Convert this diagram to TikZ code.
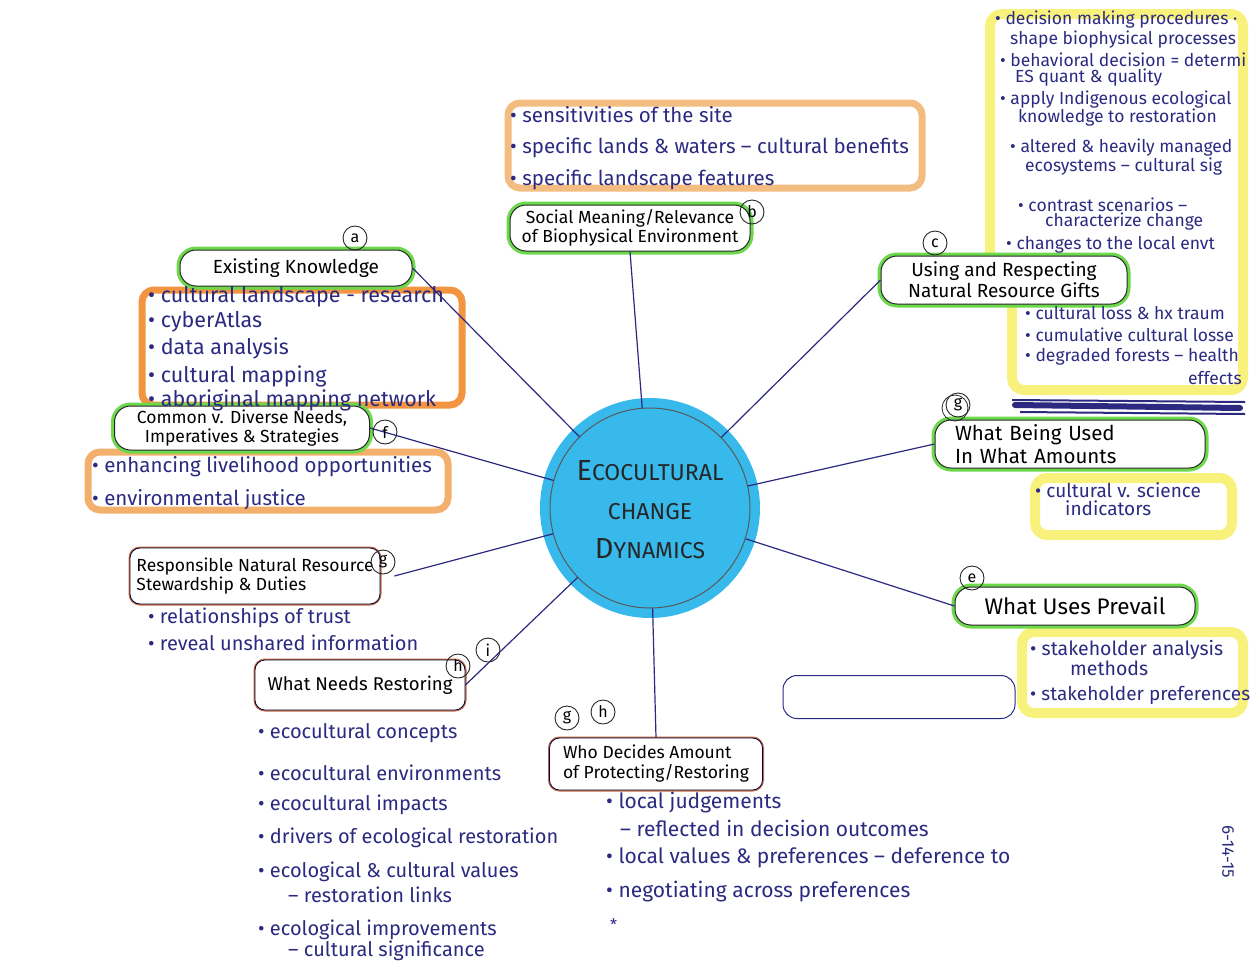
\documentclass[tikz,border=0pt]{standalone}
\usepackage{fontspec}
\setmainfont{Fira Sans}
\definecolor{inkc}{HTML}{2B2A80}
\definecolor{hlgreen}{HTML}{6CD84C}
\definecolor{hlorange}{HTML}{F29440}
\definecolor{hlpeach}{HTML}{F3BC80}
\definecolor{hlyellow}{HTML}{F8F27C}
\definecolor{hubcyan}{HTML}{38B9EC}
\definecolor{brownc}{HTML}{C46A3C}
\begin{document}
\begin{tikzpicture}[x=1pt,y=-1pt,
  conn/.style={draw=inkc, line width=1.2pt},
  topic/.style={rounded corners=16pt, draw=black!85, line width=1pt, fill=white,
    preaction={draw=hlgreen, line width=7pt}, text=black, align=center, inner sep=2pt},
  brownbox/.style={rounded corners=10pt, draw=black!75!blue, line width=0.8pt, fill=white,
    preaction={draw=brownc, line width=3pt}, text=black, align=left, inner sep=2pt},
  letter/.style={circle, draw=black!85, line width=0.9pt, inner sep=0pt, minimum size=24pt,
    font=\fontsize{16}{18}\selectfont, text=black},
  note/.style={anchor=west, inner sep=0pt, text=inkc},
  hlbox/.style={rounded corners=12pt, line width=#1},
  fsz/.style={font=\fontsize{#1}{#1}\selectfont},
]
\useasboundingbox (0,0) rectangle (1251,962);

% ---- highlighter boxes ----
\draw[hlbox=7pt, draw=hlpeach] (508,103) rectangle (922,188);
\draw[hlbox=7pt, draw=hlorange] (142,290) rectangle (462,405);
\draw[hlbox=7pt, draw=hlpeach!70!hlorange] (88,452) rectangle (448,510);
\draw[hlbox=10pt, draw=hlyellow] (990,258) -- (990,14) -- (1243,14) -- (1243,390) -- (1012,390) -- (1012,300);
\draw[hlbox=10pt, draw=hlyellow] (1035,478) rectangle (1232,535);
\draw[hlbox=10pt, draw=hlyellow] (1022,632) rectangle (1243,713);

% ---- hub ----
\fill[hubcyan] (650,508) circle (110);
\node[circle, draw=black!65, line width=1pt, minimum size=200pt, inner sep=0pt] (hub) at (650,508) {};
\node[align=center, text=black!85, font=\fontsize{23}{39}\selectfont] (hubtext) at (650,510)
  {{\fontsize{29}{29}\selectfont E}COCULTURAL\\CHANGE\\{\fontsize{29}{29}\selectfont D}YNAMICS};

% ---- topic nodes ----
\node[topic, fsz=19, minimum width=232pt, minimum height=36pt] (ek) at (296,268) {Existing Knowledge};
\node[topic, font=\fontsize{17.5}{19}\selectfont, minimum width=240pt, minimum height=46pt] (sm) at (630,228) {Social Meaning/Relevance\\of Biophysical Environment};
\node[topic, font=\fontsize{19}{21}\selectfont, minimum width=246pt, minimum height=48pt] (ur) at (1004,280) {Using and Respecting\\Natural Resource Gifts};
\node[topic, font=\fontsize{20.5}{23}\selectfont, text width=230pt, inner xsep=20pt, minimum height=48pt, align=left] (wbu) at (1070,444) {What Being Used\\In What Amounts};
\node[topic, fsz=22.5, minimum width=240pt, minimum height=38pt] (wup) at (1075,606) {What Uses Prevail};
\node[topic, font=\fontsize{17.5}{18.5}\selectfont, minimum width=255pt, minimum height=44pt] (cd) at (242,428) {Common v. Diverse Needs,\\Imperatives \& Strategies};
\node[brownbox, font=\fontsize{17.5}{19}\selectfont, minimum width=250pt, minimum height=56pt] (rn) at (255,576) {Responsible Natural Resource\\Stewardship \& Duties};
\node[brownbox, fsz=18.5, minimum width=210pt, minimum height=50pt, align=center] (wnr) at (360,685) {What Needs Restoring};
\node[brownbox, font=\fontsize{17.5}{20}\selectfont, minimum width=213pt, minimum height=52pt] (wd) at (656,764) {Who Decides Amount\\of Protecting/Restoring};
\node[rounded corners=14pt, draw=inkc, line width=1pt, minimum width=232pt, minimum height=43pt] (blank) at (899,697) {};

% ---- connectors ----
\draw[conn] (sm.south) -- (hub);
\draw[conn] (ek.east) -- (hub);
\draw[conn] (cd.east) -- (hub);
\draw[conn] (rn.east) ++(14pt,0) coordinate (rnx) (rnx) -- (hub);
\draw[conn] (wnr.east) -- (hub);
\draw[conn] (wd.north) -- (hub);
\draw[conn] (wup.west) -- (hub);
\draw[conn] (wbu.west) -- (hub);
\draw[conn] (ur.west) -- (hub);

% ---- letter tags ----
\node[letter] (la) at (355,238) {a};
\node[letter] (lb) at (752,212) {b};
\node[letter] (lc) at (935,243) {c};
\node[letter] (lg1) at (958,405) {g};
\draw[black!85, line width=0.8pt] (955,408) circle (13);
\node[letter] (le) at (972,578) {e};
\node[letter] (lf) at (385,432) {f};
\node[letter] (lg2) at (383,562) {g};
\node[letter] (li) at (488,650) {i};
\node[letter] (lh1) at (458,666) {h};
\node[letter] (lg3) at (567,718) {g};
\node[letter] (lh2) at (603,712) {h};

% scribbled-out line
\draw[inkc, line width=6pt, line cap=round] (1015,405) -- (1240,408);
\draw[inkc, line width=2pt] (1012,400) -- (1245,402) (1020,412) -- (1245,414);

% ---- notes: social meaning ----
\node[note, fsz=20.5] (s1) at (510,115) {• sensitivities of the site};
\node[note, fsz=20.5] (s2) at (510,148) {• specific lands \& waters – cultural benefits};
\node[note, fsz=20.5] (s3) at (510,180) {• specific landscape features};

% ---- notes: existing knowledge ----
\node[note, fsz=21.5] (k1) at (148,297) {• cultural landscape - research};
\node[note, fsz=21.5] (k2) at (148,322) {• cyberAtlas};
\node[note, fsz=21.5] (k3) at (148,348) {• data analysis};
\node[note, fsz=21.5] (k4) at (148,376) {• cultural mapping};
\node[note, fsz=21.5] (k5) at (148,400) {• aboriginal mapping network};

% ---- notes: common v. diverse ----
\node[note, fsz=20.5] (c1) at (92,467) {• enhancing livelihood opportunities};
\node[note, fsz=20.5] (c2) at (92,500) {• environmental justice};

% ---- notes: stewardship ----
\node[note, fsz=20] (r1) at (148,618) {• relationships of trust};
\node[note, fsz=20] (r2) at (148,643) {• reveal unshared information};

% ---- notes: restoring ----
\node[note, fsz=20] (n1) at (258,733) {• ecocultural concepts};
\node[note, fsz=20] (n2) at (258,773) {• ecocultural environments};
\node[note, fsz=20] (n3) at (258,805) {• ecocultural impacts};
\node[note, fsz=20] (n4) at (258,838) {• drivers of ecological restoration};
\node[note, fsz=20] (n5) at (258,872) {• ecological \& cultural values};
\node[note, fsz=20] (n6) at (288,895) {– restoration links};
\node[note, fsz=20] (n7) at (258,930) {• ecological improvements};
\node[note, fsz=20] (n8) at (288,951) {– cultural significance};

% ---- notes: who decides ----
\node[note, fsz=21] (d1) at (606,803) {• local judgements};
\node[note, fsz=21] (d2) at (620,828) {– reflected in decision outcomes};
\node[note, fsz=21] (d3) at (606,858) {• local values \& preferences – deference to};
\node[note, fsz=21] (d4) at (606,892) {• negotiating across preferences};
\node[note, fsz=16] (d5) at (610,925) {*};

% ---- notes: yellow panels ----
\node[note, fsz=17.5] (y1) at (995,20) {• decision making procedures ·};
\node[note, fsz=17.5] (y2) at (1010,40) {shape biophysical processes};
\node[note, fsz=17.5] (y3) at (1000,60) {• behavioral decision = determi};
\node[note, fsz=17.5] (y4) at (1015,78) {ES quant \& quality};
\node[note, fsz=17.5] (y5) at (1000,100) {• apply Indigenous ecological};
\node[note, fsz=17.5] (y6) at (1018,118) {knowledge to restoration};
\node[note, fsz=17.5] (y7) at (1010,148) {• altered \& heavily managed};
\node[note, fsz=17.5] (y8) at (1025,167) {ecosystems – cultural sig};
\node[note, fsz=17.5] (y9) at (1018,205) {• contrast scenarios –};
\node[note, fsz=17.5] (y10) at (1045,222) {characterize change};
\node[note, fsz=17.5] (y11) at (1006,245) {• changes to the local envt};
\node[note, fsz=17.5] (y12) at (1025,313) {• cultural loss \& hx traum};
\node[note, fsz=17.5] (y13) at (1025,335) {• cumulative cultural losse};
\node[note, fsz=17.5] (y14) at (1025,357) {• degraded forests – health};
\node[note, fsz=17.5] (y15) at (1188,378) {effects};

\node[note, fsz=19] (u1) at (1035,490) {• cultural v. science};
\node[note, fsz=19] (u2) at (1065,508) {indicators};

\node[note, fsz=19.5] (p1) at (1030,650) {• stakeholder analysis};
\node[note, fsz=19.5] (p2) at (1070,668) {methods};
\node[note, fsz=19] (p3) at (1030,695) {• stakeholder preferences};

% ---- date ----
\node[text=inkc, fsz=17, rotate=-90] (date) at (1228,852) {6-14-15};
\end{tikzpicture}
\end{document}
